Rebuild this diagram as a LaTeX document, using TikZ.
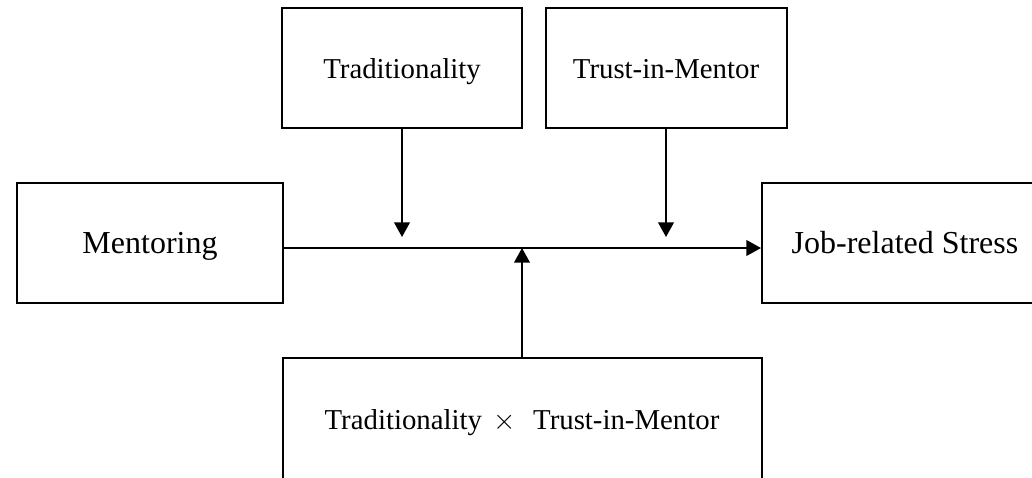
\documentclass[tikz,border=0pt]{standalone}
\usepackage{fontspec}
\setmainfont{Liberation Serif}
\usetikzlibrary{arrows.meta,positioning}
\tikzset{
  box/.style={rectangle, draw=black, line width=1pt, fill=white, align=center,
              inner sep=0pt, text height=11.5pt, text depth=1pt,
              font=\fontsize{14.4}{17}\selectfont},
  bigbox/.style={box, font=\fontsize{16}{19}\selectfont},
  arrow/.style={-{Triangle[length=7.3pt,width=7.8pt]}, line width=1pt, black},
}

\begin{document}
\begin{tikzpicture}[x=0.5pt, y=-0.5pt]
\clip (0,0) rectangle (1032,477);
\node[bigbox, minimum width=133pt, minimum height=60pt] (mentor) at (150,243) {Mentoring};
\node[bigbox, minimum width=143pt, minimum height=60pt] (job) at (905,243) {Job-related Stress};
\node[box, minimum width=120pt, minimum height=60pt] (trad) at (402,68) {Traditionality};
\node[box, minimum width=120.5pt, minimum height=60pt] (trust) at (666,68) {Trust-in-Mentor};
\node[box, minimum width=239.5pt, minimum height=61pt] (inter) at (522,419)
  {Traditionality\hspace{0.4em}$\times$\hspace{0.6em}Trust-in-Mentor};
\coordinate (hit) at (522,248);
% main path and moderators
\draw[arrow] ([yshift=-2.5pt]mentor.east) -- ([yshift=-2.5pt]job.west);
\foreach \m in {trad, trust}
  \draw[arrow, shorten >=5.5pt] (\m.south) -- (\m.south |- hit);
\draw[arrow] (inter.north) -- (inter.north |- hit);
\end{tikzpicture}
\end{document}
